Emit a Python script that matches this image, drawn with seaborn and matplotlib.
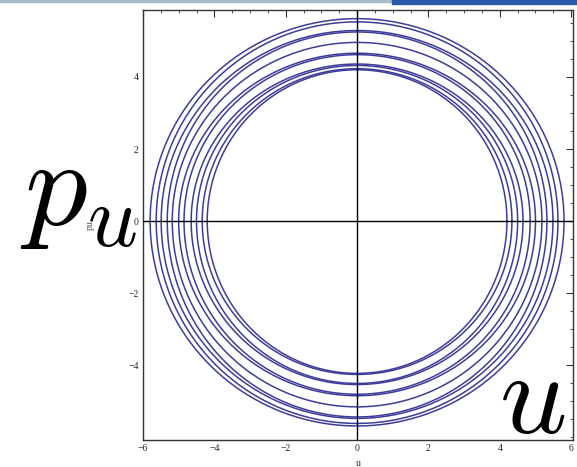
import numpy as np
import pandas as pd
import seaborn as sns
import matplotlib.pyplot as plt
from matplotlib.patches import Rectangle
from matplotlib.ticker import MultipleLocator

# ring extents: half-width in u, upper and lower reach in p_u
ring_rx = [4.20, 4.34, 4.50, 4.65, 4.85, 5.00, 5.18, 5.32, 5.49, 5.63, 5.80]
ring_top = [4.20, 4.23, 4.32, 4.36, 4.62, 4.66, 4.96, 5.25, 5.29, 5.53, 5.62]
ring_bottom = [4.23, 4.26, 4.51, 4.54, 4.81, 4.85, 5.16, 5.44, 5.48, 5.62, 5.69]

x_ticks = [-6, -4, -2, 0, 2, 4, 6]
y_ticks = [-4, -2, 0, 2, 4]

sns.set_style("white")
plt.rcParams["mathtext.fontset"] = "cm"
plt.rcParams["font.family"] = ["Liberation Serif", "DejaVu Serif"]

theta = np.linspace(0, 2 * np.pi, 500)
rows = []
for i, (rx, rt, rb) in enumerate(zip(ring_rx, ring_top, ring_bottom)):
    s = np.sin(theta)
    rows.append(pd.DataFrame({"ring": i, "u": rx * np.cos(theta),
                              "pu": np.where(s > 0, rt * s, rb * s)}))
df = pd.concat(rows, ignore_index=True)

fig = plt.figure(figsize=(5.77, 4.67), dpi=100)
ax = fig.add_axes([0.2478, 0.0578, 0.7452, 0.9208])

sns.lineplot(data=df, x="u", y="pu", units="ring", estimator=None, sort=False,
             color="#3d3d99", linewidth=1.1, ax=ax)

ax.axhline(0, color="black", lw=1.0, zorder=3)
ax.axvline(0, color="black", lw=1.0, zorder=3)

ax.set_xlim(-6, 6.05)
ax.set_ylim(-6.08, 5.86)
ax.set_xticks(x_ticks)
ax.set_yticks(y_ticks)
ax.set_xticklabels([f"{t}".replace("-", "\u2212") for t in x_ticks])
ax.set_yticklabels([f"{t}".replace("-", "\u2212") for t in y_ticks])
ax.xaxis.set_minor_locator(MultipleLocator(0.5))
ax.yaxis.set_minor_locator(MultipleLocator(0.5))
ax.tick_params(which="major", direction="in", length=5, width=0.8,
               top=True, right=True, labelsize=7, pad=3, color="#333333")
ax.tick_params(which="minor", direction="in", length=2.5, width=0.6,
               top=True, right=True, color="#333333")
for s in ax.spines.values():
    s.set_color("#333333")
    s.set_linewidth(1.0)

ax.set_xlabel("u", fontsize=7, labelpad=4)
ax.set_ylabel("pu", fontsize=7, labelpad=24, color="#555555")

# big overlay labels
fig.text(0.035, 0.583, r"$p_u$", fontsize=90, ha="left", va="center", color="black")
fig.text(0.865, 0.135, r"$u$", fontsize=85, ha="left", va="center", color="black")

# slide decoration at the top edge
fig.patches.append(Rectangle((0, 1 - 2 / 467), 392 / 577, 2 / 467,
                             transform=fig.transFigure, color="#aab8cc", zorder=0))
fig.patches.append(Rectangle((392 / 577, 1 - 4 / 467), 185 / 577, 4 / 467,
                             transform=fig.transFigure, color="#2a5aa8", zorder=0))

fig.savefig("out.png", dpi=100)
